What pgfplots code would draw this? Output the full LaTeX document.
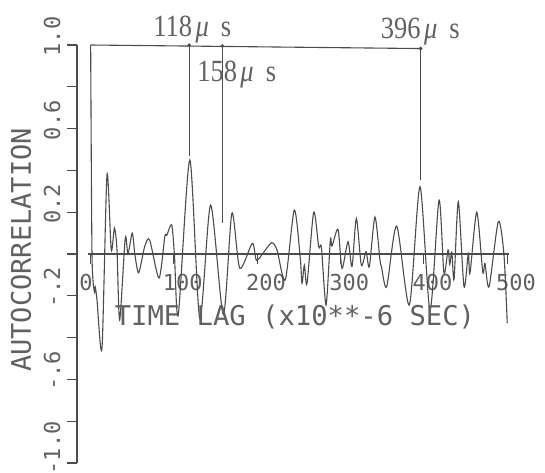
\documentclass[border=0pt]{standalone}
\usepackage{pgfplots}
\pgfplotsset{compat=1.18}
\usepackage{fontspec}
\newfontfamily\plotfont{DejaVu Sans Mono}
\newfontfamily\annfont{Liberation Serif}
\definecolor{ink}{gray}{0.3}
\definecolor{txt}{gray}{0.38}
\pgfplotstableread{
lag r
0 1.0
1.6 0.0
4.3 -0.177
5.5 -0.158
7.6 -0.22
13.6 -0.45
19.6 0.378
24.7 0.02
28.5 0.124
31.6 0.02
34.8 -0.316
41.5 0.075
44.8 0.0
49.9 0.10
53.0 0.0
57.6 -0.09
64.8 0.035
70.8 0.067
82.0 -0.115
89.0 0.083
91.5 0.09
97.2 0.14
100.5 0.0
105.2 -0.29
119.0 0.45
131.0 -0.31
144.0 0.234
159.2 -0.29
169.5 0.195
179.0 -0.068
194.0 0.051
199.0 -0.03
208.0 0.01
217.3 0.054
223.6 0.02
233.6 -0.124
244.4 0.21
251.6 -0.02
253.7 -0.14
256.5 -0.053
259.7 -0.14
267.7 0.20
273.7 0.035
277.0 0.03
282.5 -0.244
287.7 0.067
289.7 0.038
296.9 0.118
301.7 -0.069
308.9 0.059
313.7 -0.06
318.9 0.17
324.9 -0.053
330.5 0.011
334.5 -0.06
341.2 0.177
347.3 -0.03
349.0 -0.06
355.3 -0.156
367.3 0.134
382.5 -0.244
395.3 0.322
407.3 -0.268
418.1 0.258
424.0 -0.09
429.0 0.02
431.0 -0.05
433.5 0.01
436.2 -0.12
441.3 0.25
448.1 -0.156
453.3 0.003
455.3 -0.092
463.4 0.20
470.6 -0.085
473.3 -0.045
478.2 -0.156
489.3 0.155
496.0 0.0
500.0 -0.33
}\acf
\begin{document}
\begin{tikzpicture}
\useasboundingbox (0,0) rectangle (272.5pt,236pt);
\begin{axis}[
  at={(38.5pt,4.5pt)}, anchor=south west,
  scale only axis, width=215.95pt, height=209pt,
  xmin=-16.4, xmax=502, ymin=-1, ymax=1,
  clip=false,
  axis y line*=left, axis x line*=middle,
  x axis line style={draw=none},
  y axis line style={ink, line width=0.6pt},
  hide obscured x ticks=false, hide obscured y ticks=false,
  tick align=outside,
  major tick length=5pt, minor tick length=5pt,
  ytick={-1,-0.6,-0.2,0.2,0.6,1},
  minor ytick={-0.8,-0.4,0,0.4,0.8},
  yticklabels={-1.0,-.6,-.2,0.2,0.6,1.0},
  xtick={0,100,200,300,400,500},
  xticklabels={0,100,200,300,400,500},
  y tick style={ink, line width=0.6pt},
  x tick style={ink, line width=0.5pt},
  xticklabel style={font=\plotfont\fontsize{11}{11}\selectfont, text=txt, anchor=base west, inner sep=0pt, xshift=-5.8pt, yshift=-13pt},
  yticklabel style={font=\plotfont\fontsize{11}{11}\selectfont, text=txt, inner sep=0pt, xshift=-3.5pt, yshift=-5.9pt, rotate=90, anchor=base west},
  xlabel={TIME LAG (x10**-6 SEC)},
  ylabel={AUTOCORRELATION},
  xlabel style={at={(axis description cs:0.5047,0.330)}, anchor=base, font=\plotfont\fontsize{13.6}{13.6}\selectfont, text=txt, inner sep=0pt},
  ylabel style={at={(axis description cs:-0.1297,0.5096)}, rotate=0, anchor=center, font=\plotfont\fontsize{13.5}{13.5}\selectfont, text=txt, inner sep=0pt},
]
\addplot[ink, line width=0.55pt, smooth, tension=0.45] table[x=lag, y=r] {\acf};
\addplot[ink, line width=1pt] coordinates {(-3,0) (502,0)};
\addplot[ink, line width=0.55pt] coordinates {(0,1) (396,0.983)};
\addplot[ink, line width=0.55pt] coordinates {(118.2,0.999) (118.2,0.47)};
\addplot[ink, line width=0.55pt] coordinates {(158,0.995) (158,0.148)};
\addplot[ink, line width=0.55pt] coordinates {(396,0.983) (396,0.354)};
\addplot[only marks, mark=*, mark size=0.7pt, ink] coordinates {(118.2,0.999) (158,0.995) (396,0.983)};
\node[anchor=base west, font=\annfont\fontsize{15.4}{15.4}\selectfont, xscale=0.86, text=txt, inner sep=0pt] at (axis cs:74.8,1.041) {118\kern2pt{\itshape μ}\kern7pt s};
\node[anchor=base west, font=\annfont\fontsize{15.4}{15.4}\selectfont, xscale=0.86, text=txt, inner sep=0pt] at (axis cs:127.6,0.824) {158\kern2pt{\itshape μ}\kern7pt s};
\node[anchor=base west, font=\annfont\fontsize{15.4}{15.4}\selectfont, xscale=0.86, text=txt, inner sep=0pt] at (axis cs:348,1.0325) {396\kern2pt{\itshape μ}\kern7pt s};
\end{axis}
\end{tikzpicture}
\end{document}
